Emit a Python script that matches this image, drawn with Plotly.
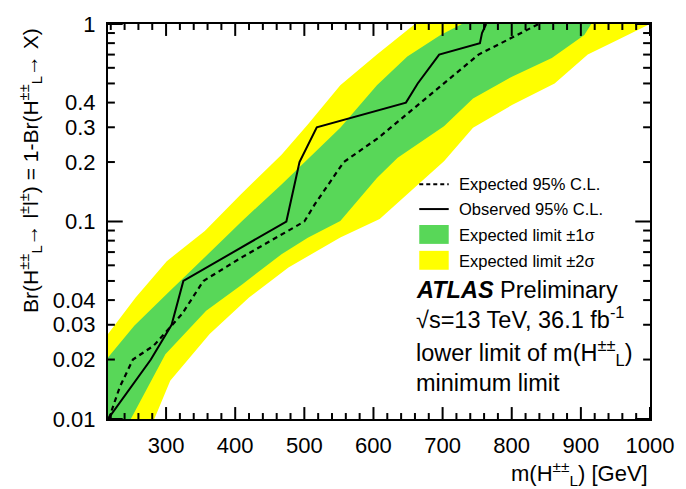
import math
import plotly.graph_objects as go

# ---------------- data ----------------
obs_mass = [216, 278, 308, 325, 474, 493, 518, 647, 664, 695, 754, 757, 763]
obs_br = [0.01, 0.02, 0.03, 0.05, 0.10, 0.20, 0.30, 0.40, 0.50, 0.70, 0.80, 0.90, 1.0]

exp_mass = [217, 233, 252, 282, 323, 354, 410, 500, 515, 557, 607, 640, 671, 752, 839]
exp_br = [0.01, 0.0145, 0.020, 0.0235, 0.034, 0.050, 0.066, 0.10, 0.122, 0.20, 0.265, 0.33, 0.406, 0.70, 1.0]

# +-2 sigma band: low-mass edge and high-mass edge
y2_lo_mass = [216, 216, 256, 301, 356, 408, 467, 505, 552, 605, 660, 1000]
y2_lo_br = [0.01, 0.0269, 0.0412, 0.063, 0.0895, 0.137, 0.218, 0.31, 0.49, 0.70, 1.0, 1.0]
y2_hi_mass = [283, 306, 363, 420, 477, 552, 609, 702, 744, 801, 862, 910, 953, 1000]
y2_hi_br = [0.01, 0.0156, 0.0269, 0.0412, 0.0585, 0.083, 0.103, 0.202, 0.298, 0.39, 0.50, 0.70, 0.83, 1.0]

# +-1 sigma band
g1_lo_mass = [216, 216, 254, 301, 353, 410, 467, 552, 605, 649, 697, 728, 915]
g1_lo_br = [0.01, 0.0205, 0.0297, 0.043, 0.0644, 0.1006, 0.154, 0.298, 0.49, 0.685, 0.88, 1.0, 1.0]
g1_hi_mass = [249, 299, 358, 410, 467, 505, 552, 605, 635, 702, 744, 801, 858, 905, 915]
g1_hi_br = [0.01, 0.0213, 0.0353, 0.048, 0.0683, 0.0828, 0.1006, 0.166, 0.21, 0.304, 0.42, 0.543, 0.672, 0.88, 1.0]

x_range = [216, 1000]
y_log_range = [-2, 0]
x_major = [300, 400, 500, 600, 700, 800, 900, 1000]
x_minor = [m for m in range(220, 1000, 20) if m % 100 != 0]
y_tickvals = [0.01, 0.02, 0.03, 0.04, 0.1, 0.2, 0.3, 0.4, 1]
y_ticktext = ["0.01", "0.02", "0.03", "0.04", "0.1", "0.2", "0.3", "0.4", "1"]
y_minor = [0.05, 0.06, 0.07, 0.08, 0.09, 0.5, 0.6, 0.7, 0.8, 0.9]
y_long = [0.01, 0.1, 1]

GREEN = "rgb(88,215,88)"
YELLOW = "rgb(255,255,0)"
FONT = "Liberation Sans, Arial, Helvetica, sans-serif"

W, H = 686, 489
ML, MR, MT, MB = 108, 26, 22, 70
PW, PH = W - ML - MR, H - MT - MB


def px(x):
    return (x - ML) / PW


def py(y):
    return 1 - (y - MT) / PH


def xfrac(m):
    return (m - x_range[0]) / (x_range[1] - x_range[0])


def yfrac(v):
    return (math.log10(v) - y_log_range[0]) / (y_log_range[1] - y_log_range[0])


fig = go.Figure()

fig.add_trace(go.Scatter(
    x=y2_lo_mass + y2_hi_mass[::-1], y=y2_lo_br + y2_hi_br[::-1],
    fill="toself", fillcolor=YELLOW, mode="none", hoverinfo="skip", showlegend=False))
fig.add_trace(go.Scatter(
    x=g1_lo_mass + g1_hi_mass[::-1], y=g1_lo_br + g1_hi_br[::-1],
    fill="toself", fillcolor=GREEN, mode="none", hoverinfo="skip", showlegend=False))
fig.add_trace(go.Scatter(
    x=exp_mass, y=exp_br, mode="lines",
    line=dict(color="black", width=2.2, dash="5px,4px"), showlegend=False))
fig.add_trace(go.Scatter(
    x=obs_mass, y=obs_br, mode="lines",
    line=dict(color="black", width=2), showlegend=False))

axis_font = dict(family=FONT, size=22, color="black")

fig.update_layout(
    width=W, height=H,
    margin=dict(l=ML, r=MR, t=MT, b=MB),
    paper_bgcolor="white", plot_bgcolor="white",
    font=dict(family=FONT, color="black"),
    xaxis=dict(
        range=x_range, showgrid=False, zeroline=False,
        showline=True, linecolor="black", linewidth=2, mirror=True,
        ticks="", tickmode="array", tickvals=x_major, tickfont=axis_font,
        ticklabelstandoff=6,
    ),
    yaxis=dict(
        type="log", range=y_log_range, showgrid=False, zeroline=False,
        showline=True, linecolor="black", linewidth=2, mirror=True,
        ticks="", tickmode="array", tickvals=y_tickvals, ticktext=y_ticktext,
        tickfont=axis_font, ticklabelstandoff=6,
    ),
)

ann = []
# axis titles
ann.append(dict(x=px(660), y=py(474), xref="paper", yref="paper", xanchor="right", yanchor="middle",
                text="m(H<sup>±±</sup><sub>L</sub>) [GeV]", showarrow=False,
                font=dict(family=FONT, size=22, color="black")))
ann.append(dict(x=px(29), y=py(24), xref="paper", yref="paper", xanchor="center", yanchor="top",
                textangle=-90,
                text="Br(H<sup>±±</sup><sub>L</sub>→ l<sup>±</sup>l<sup>±</sup>) = 1-Br(H<sup>±±</sup><sub>L</sub>→ X)",
                showarrow=False, font=dict(family=FONT, size=21, color="black")))

# legend
leg_font = dict(family=FONT, size=16.5, color="black")
leg_items = [("Expected 95% C.L.", 183), ("Observed 95% C.L.", 208),
             ("Expected limit ±1σ", 234), ("Expected limit ±2σ", 260)]
for txt, yy in leg_items:
    ann.append(dict(x=px(463), y=py(yy), xref="paper", yref="paper", xanchor="left", yanchor="middle",
                    text=txt, showarrow=False, font=leg_font))

shapes = [
    dict(type="line", xref="paper", yref="paper", x0=px(425), x1=px(455), y0=py(183), y1=py(183),
         line=dict(color="black", width=2, dash="4px,3px")),
    dict(type="line", xref="paper", yref="paper", x0=px(425), x1=px(455), y0=py(208), y1=py(208),
         line=dict(color="black", width=2)),
    dict(type="rect", xref="paper", yref="paper", x0=px(425), x1=px(455), y0=py(243), y1=py(224),
         fillcolor=GREEN, line=dict(width=0)),
    dict(type="rect", xref="paper", yref="paper", x0=px(425), x1=px(455), y0=py(269), y1=py(250),
         fillcolor=YELLOW, line=dict(width=0)),
]

# ROOT-style inside ticks on all four sides (paper-referenced, placed via the axis scales)
tick_line = dict(color="black", width=2)
for m, ln in [(v, 12) for v in x_major] + [(v, 6) for v in x_minor]:
    xf = xfrac(m)
    shapes.append(dict(type="line", xref="paper", yref="paper", x0=xf, x1=xf, y0=0, y1=ln / PH,
                       line=tick_line, layer="above"))
    shapes.append(dict(type="line", xref="paper", yref="paper", x0=xf, x1=xf, y0=1 - ln / PH, y1=1,
                       line=tick_line, layer="above"))
for v, ln in [(b, 7) for b in y_tickvals + y_minor if b not in y_long] + [(b, 15) for b in y_long]:
    yf = yfrac(v)
    shapes.append(dict(type="line", xref="paper", yref="paper", x0=0, x1=ln / PW, y0=yf, y1=yf,
                       line=tick_line, layer="above"))
    shapes.append(dict(type="line", xref="paper", yref="paper", x0=1 - ln / PW, x1=1, y0=yf, y1=yf,
                       line=tick_line, layer="above"))

lab_font = dict(family=FONT, size=23.5, color="black")
labels = [
    ("<b><i>ATLAS</i></b> Preliminary", 289),
    ("√s=13 TeV, 36.1 fb<sup>-1</sup>", 317),
    ("lower limit of m(H<sup>±±</sup><sub>L</sub>)", 352),
    ("minimum limit", 383),
]
for txt, yy in labels:
    ann.append(dict(x=px(420), y=py(yy), xref="paper", yref="paper", xanchor="left", yanchor="middle",
                    text=txt, showarrow=False, font=lab_font))

fig.update_layout(annotations=ann, shapes=shapes)

fig.write_html("out.html")
